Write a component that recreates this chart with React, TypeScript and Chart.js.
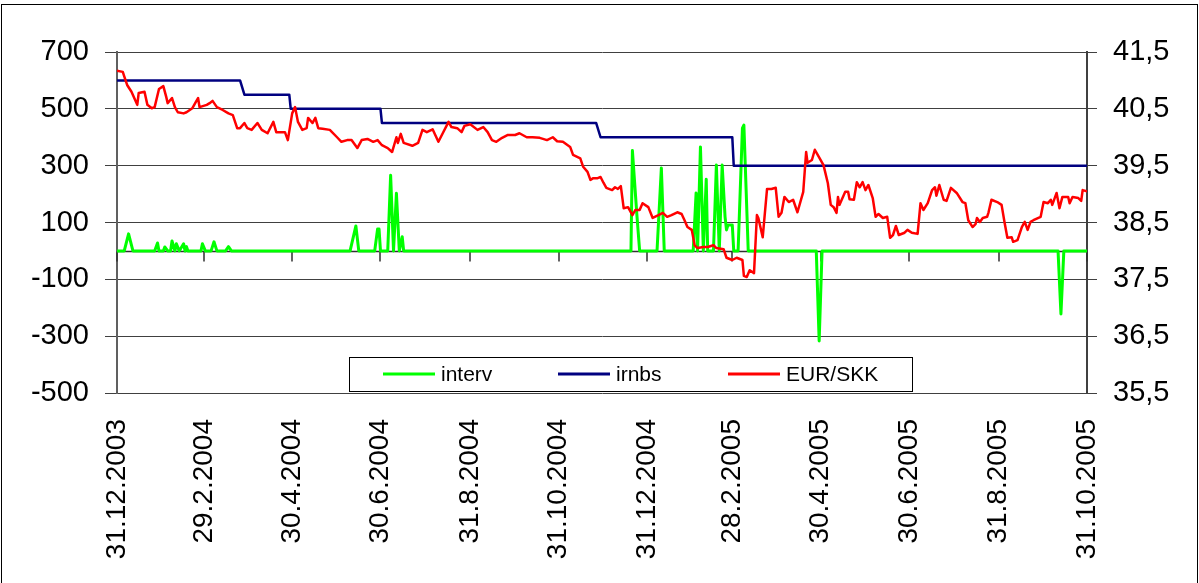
import React, { useEffect, useRef } from 'react';
import { Chart, registerables } from 'chart.js';

Chart.register(...registerables);

const FONT = '"Liberation Sans", Arial, sans-serif';

// Days since 31.12.2003
const tickDays = [0, 60, 121, 182, 244, 305, 366, 425, 486, 547, 609, 670];
const tickLabels = [
  '31.12.2003', '29.2.2004', '30.4.2004', '30.6.2004', '31.8.2004', '31.10.2004',
  '31.12.2004', '28.2.2005', '30.4.2005', '30.6.2005', '31.8.2005', '31.10.2005',
];
const leftTicks = [-500, -300, -100, 100, 300, 500, 700];
const rightTicks = [35.5, 36.5, 37.5, 38.5, 39.5, 40.5, 41.5];

const intervDays = [
  0, 5, 8, 11, 26, 28, 29, 32, 33, 35, 37, 38, 40, 41, 43, 46, 47, 48, 49, 58, 59, 61,
  65, 67, 69, 75, 77, 79, 161, 165, 167, 178, 180, 181, 182, 187, 189, 191, 193, 195, 197, 198,
  355, 356, 359, 361, 373, 376, 378, 398, 400, 401, 403, 405, 407, 408, 412, 414, 416, 418,
  420, 421, 422, 425, 426, 429, 432, 433, 436, 483, 485, 487, 650, 652, 654, 670,
];
const intervValues = [
  0, 0, 60, 0, 0, 28, 0, 0, 14, 0, 0, 35, 0, 25, 0, 25, 0, 15, 0, 0, 25, 0,
  0, 32, 0, 0, 15, 0, 0, 88, 0, 0, 77, 77, 0, 0, 266, 0, 203, 0, 50, 0,
  0, 353, 133, 0, 0, 292, 0, 0, 204, 0, 366, 0, 252, 0, 0, 302, 0, 302,
  120, 74, 91, 91, 0, 0, 432, 443, 0, 0, -317, 0, 0, -222, 0, 0,
];

const irnbsDays = [0, 85, 88, 119, 120, 182, 183, 331, 334, 425, 426, 670];
const irnbsValues = [600, 600, 550, 550, 500, 500, 450, 450, 400, 400, 300, 300];

const eurSkkDays = [
  0, 4, 5, 7, 10, 14, 15, 19, 21, 24, 26, 29, 32, 34, 35, 38, 40, 42, 46, 48,
  52, 54, 56, 57, 62, 64, 66, 69, 73, 77, 80, 83, 85, 88, 90, 93, 97, 100, 104, 108,
  110, 116, 118, 121, 123, 125, 128, 131, 132, 135, 137, 139, 142, 147, 152, 155, 159, 162, 166, 169,
  173, 177, 180, 183, 187, 190, 193, 194, 196, 198, 204, 208, 211, 214, 218, 222, 225, 229, 231, 235,
  238, 240, 244, 249, 253, 256, 259, 262, 266, 270, 275, 278, 283, 287, 292, 297, 301, 304, 308, 313,
  315, 320, 322, 325, 327, 329, 332, 334, 336, 338, 342, 344, 346, 348, 350, 353, 356, 358, 361, 363,
  367, 370, 374, 377, 380, 383, 387, 390, 392, 394, 397, 399, 401, 405, 408, 412, 414, 419, 421, 425,
  428, 432, 433, 435, 437, 440, 442, 443, 446, 449, 452, 455, 457, 459, 461, 464, 467, 470, 474, 476,
  477, 480, 482, 484, 488, 491, 493, 495, 497, 498, 499, 503, 505, 506, 509, 511, 513, 515, 517, 519,
  522, 524, 526, 529, 532, 534, 536, 538, 540, 544, 546, 549, 553, 555, 557, 560, 563, 565, 566, 568,
  571, 573, 576, 580, 584, 586, 588, 591, 593, 594, 596, 598, 601, 602, 604, 608, 611, 613, 615, 618,
  619, 622, 625, 627, 629, 631, 633, 638, 640, 643, 645, 646, 649, 651, 653, 657, 658, 660, 664, 666,
  667, 670,
];
const eurSkkValues = [
  41.17, 41.15, 41.07, 40.92, 40.80, 40.57, 40.78, 40.80, 40.57, 40.51, 40.53, 40.85, 40.90, 40.71, 40.60, 40.69, 40.53, 40.44, 40.42, 40.44,
  40.51, 40.60, 40.69, 40.53, 40.57, 40.60, 40.64, 40.53, 40.48, 40.42, 40.39, 40.16, 40.16, 40.25, 40.16, 40.13, 40.25, 40.13, 40.07, 40.27,
  40.09, 40.09, 39.95, 40.42, 40.53, 40.27, 40.13, 40.16, 40.34, 40.25, 40.34, 40.16, 40.15, 40.13, 40.00, 39.92, 39.95, 39.95, 39.81, 39.95,
  39.97, 39.92, 39.95, 39.86, 39.81, 39.74, 40.00, 39.90, 40.06, 39.90, 39.85, 39.90, 40.13, 40.09, 40.14, 39.92, 40.07, 40.27, 40.18, 40.16,
  40.09, 40.20, 40.23, 40.13, 40.18, 40.09, 39.95, 39.92, 39.99, 40.04, 40.04, 40.07, 40.00, 40.00, 39.99, 39.95, 40.00, 39.93, 39.92, 39.83,
  39.69, 39.63, 39.48, 39.39, 39.25, 39.28, 39.28, 39.30, 39.20, 39.11, 39.07, 39.12, 39.09, 39.14, 38.75, 38.77, 38.63, 38.72, 38.72, 38.84,
  38.77, 38.58, 38.63, 38.67, 38.60, 38.63, 38.68, 38.65, 38.54, 38.42, 38.37, 38.10, 38.05, 38.07, 38.07, 38.10, 38.05, 38.03, 37.88, 37.84,
  37.88, 37.84, 37.56, 37.54, 37.66, 37.61, 38.63, 38.58, 38.24, 39.09, 39.09, 39.11, 38.60, 38.67, 38.95, 38.86, 38.90, 38.68, 39.04, 39.74,
  39.55, 39.60, 39.78, 39.69, 39.51, 39.19, 38.81, 38.77, 38.67, 38.95, 38.81, 39.04, 39.04, 38.91, 38.90, 39.21, 39.12, 39.21, 39.07, 39.16,
  38.93, 38.60, 38.65, 38.58, 38.60, 38.23, 38.28, 38.44, 38.28, 38.32, 38.37, 38.32, 38.30, 38.84, 38.72, 38.84, 39.07, 39.12, 38.97, 39.16,
  38.90, 38.88, 39.11, 39.02, 38.86, 38.84, 38.54, 38.42, 38.47, 38.58, 38.51, 38.58, 38.60, 38.68, 38.90, 38.86, 38.81, 38.51, 38.23, 38.24,
  38.16, 38.19, 38.42, 38.51, 38.37, 38.51, 38.54, 38.60, 38.86, 38.84, 38.90, 38.81, 39.02, 38.75, 38.95, 38.95, 38.84, 38.95, 38.93, 38.88,
  39.07, 39.05,
];

const toPoints = (days: number[], vals: number[]) => days.map((d, i) => ({ x: d, y: vals[i] }));

const framePlugin = {
  id: 'frame',
  beforeDraw(chart: any) {
    const ctx = chart.ctx;
    ctx.save();
    ctx.fillStyle = '#ffffff';
    ctx.fillRect(0, 0, chart.width, chart.height);
    ctx.restore();
  },
  afterDraw(chart: any) {
    const ctx = chart.ctx;
    ctx.save();
    ctx.strokeStyle = '#000000';
    ctx.lineWidth = 1;
    ctx.strokeRect(1.5, 4.5, chart.width - 3, chart.height + 40);
    ctx.restore();
  },
};

const zeroTickPlugin = {
  id: 'zeroTicks',
  beforeDatasetsDraw(chart: any) {
    const { ctx } = chart;
    const xs = chart.scales.x;
    const ys = chart.scales.y;
    const y0 = Math.round(ys.getPixelForValue(0)) + 0.5;
    ctx.save();
    ctx.strokeStyle = '#303030';
    ctx.lineWidth = 1.5;
    ctx.beginPath();
    ctx.moveTo(xs.left, y0);
    ctx.lineTo(xs.right, y0);
    tickDays.forEach((d) => {
      const px = Math.round(xs.getPixelForValue(d));
      ctx.moveTo(px, y0);
      ctx.lineTo(px, y0 + 10);
    });
    ctx.stroke();
    ctx.restore();
  },
};

const legendPlugin = {
  id: 'boxLegend',
  afterDraw(chart: any) {
    const ctx = chart.ctx;
    const bx = 349, by = 357, bw = 563, bh = 34;
    const cy = by + bh / 2;
    const lineStarts = [383, 558, 728];
    ctx.save();
    ctx.fillStyle = '#ffffff';
    ctx.fillRect(bx, by, bw, bh);
    ctx.strokeStyle = '#000000';
    ctx.lineWidth = 1;
    ctx.strokeRect(bx + 0.5, by + 0.5, bw, bh);
    chart.data.datasets.forEach((ds: any, i: number) => {
      const lx = lineStarts[i];
      ctx.strokeStyle = ds.borderColor;
      ctx.lineWidth = 3;
      ctx.beginPath();
      ctx.moveTo(lx, cy);
      ctx.lineTo(lx + 52, cy);
      ctx.stroke();
      ctx.fillStyle = '#000000';
      ctx.font = `21px ${FONT}`;
      ctx.textAlign = 'left';
      ctx.textBaseline = 'middle';
      ctx.fillText(ds.label, lx + 58, cy + 1);
    });
    ctx.restore();
  },
};

export default function App() {
  const ref = useRef<HTMLCanvasElement>(null);

  useEffect(() => {
    document.body.style.margin = '0';
    document.body.style.overflow = 'hidden';
    const canvas = ref.current;
    if (!canvas) return;
    const chart = new Chart(canvas, {
      type: 'line',
      data: {
        datasets: [
          {
            label: 'interv',
            data: toPoints(intervDays, intervValues),
            borderColor: '#00FF00',
            backgroundColor: '#00FF00',
            borderWidth: 3,
            yAxisID: 'y',
            order: 3,
          },
          {
            label: 'irnbs',
            data: toPoints(irnbsDays, irnbsValues),
            borderColor: '#000080',
            backgroundColor: '#000080',
            borderWidth: 2.5,
            yAxisID: 'y',
            order: 2,
          },
          {
            label: 'EUR/SKK',
            data: toPoints(eurSkkDays, eurSkkValues),
            borderColor: '#FF0000',
            backgroundColor: '#FF0000',
            borderWidth: 2.5,
            yAxisID: 'y2',
            order: 1,
          },
        ],
      },
      options: {
        animation: false,
        responsive: false,
        events: [],
        layout: { padding: { top: 52, left: 0, right: 0, bottom: 0 } },
        elements: {
          point: { radius: 0 },
          line: { tension: 0, borderJoinStyle: 'round', borderCapStyle: 'round' },
        },
        plugins: { legend: { display: false }, tooltip: { enabled: false } },
        scales: {
          x: {
            type: 'linear',
            position: 'bottom',
            min: 0,
            max: 670,
            grid: { display: false, drawTicks: false },
            border: { display: false },
            afterBuildTicks: (s: any) => {
              s.ticks = tickDays.map((v) => ({ value: v }));
            },
            afterFit: (s: any) => {
              s.height = 190;
              s.paddingLeft = 0;
              s.paddingRight = 0;
            },
            ticks: {
              autoSkip: false,
              minRotation: 90,
              maxRotation: 90,
              padding: 26,
              color: '#000000',
              font: { family: FONT, size: 28 },
              callback: (v: any) => tickLabels[tickDays.indexOf(Number(v))],
            },
          },
          y: {
            type: 'linear',
            position: 'left',
            min: -500,
            max: 700,
            afterBuildTicks: (s: any) => {
              s.ticks = leftTicks.map((v) => ({ value: v }));
            },
            afterFit: (s: any) => {
              s.width = 117;
              s.paddingTop = 0;
              s.paddingBottom = 0;
            },
            grid: { color: '#404040', lineWidth: 1, tickLength: 12 },
            border: { color: '#606060', width: 2 },
            ticks: {
              padding: 16,
              color: '#000000',
              font: { family: FONT, size: 29 },
              callback: (v: any) => String(v),
            },
          },
          y2: {
            type: 'linear',
            position: 'right',
            min: 35.5,
            max: 41.5,
            afterBuildTicks: (s: any) => {
              s.ticks = rightTicks.map((v) => ({ value: v }));
            },
            afterFit: (s: any) => {
              s.width = 112;
              s.paddingTop = 0;
              s.paddingBottom = 0;
            },
            grid: { drawOnChartArea: false, color: '#404040', tickLength: 10 },
            border: { color: '#404040', width: 2 },
            ticks: {
              padding: 16,
              color: '#000000',
              font: { family: FONT, size: 29 },
              callback: (v: any) => Number(v).toFixed(1).replace('.', ','),
            },
          },
        },
      },
      plugins: [framePlugin, zeroTickPlugin, legendPlugin],
    } as any);
    return () => chart.destroy();
  }, []);

  return (
    <div style={{ width: 1199, height: 583, position: 'relative', overflow: 'hidden' }}>
      <canvas ref={ref} width={1199} height={583} style={{ display: 'block' }} />
    </div>
  );
}
